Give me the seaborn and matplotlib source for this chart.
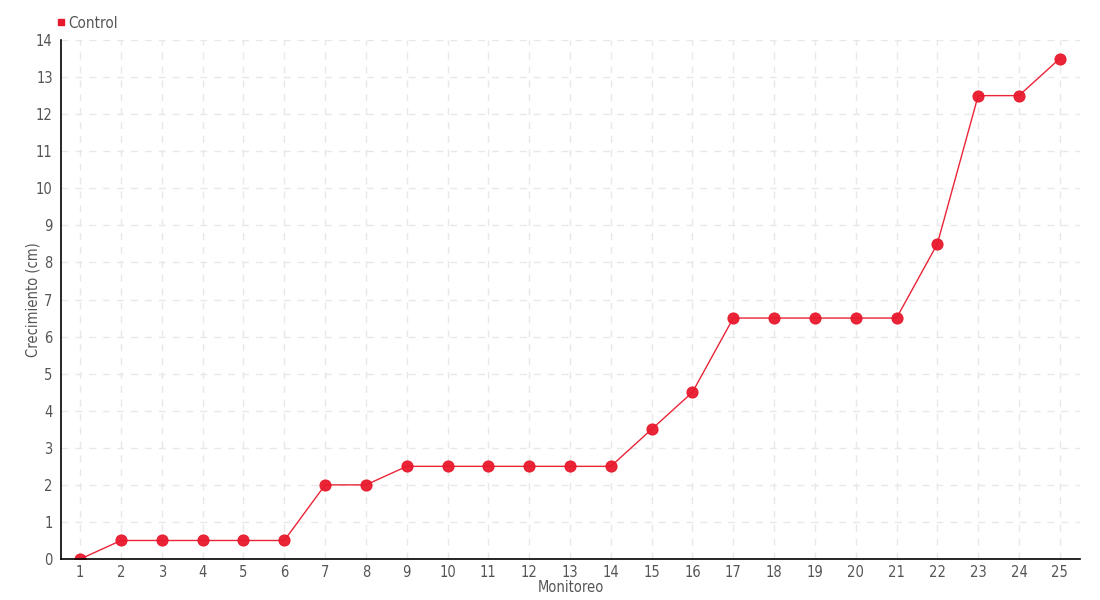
import seaborn as sns
import pandas as pd
import matplotlib.pyplot as plt
from matplotlib.lines import Line2D

monitoreo = list(range(1, 26))
control = [0, 0.5, 0.5, 0.5, 0.5, 0.5, 2, 2, 2.5, 2.5, 2.5, 2.5, 2.5, 2.5,
           3.5, 4.5, 6.5, 6.5, 6.5, 6.5, 6.5, 8.5, 12.5, 12.5, 13.5]

df = pd.DataFrame({'Monitoreo': monitoreo, 'Control': control})

sns.set_style("white")
plt.rcParams['font.family'] = ['DejaVu Sans']
plt.rcParams['font.stretch'] = 'condensed'
plt.rcParams['font.weight'] = 'light'

red = '#e8192c'
grey = '#555555'

fig = plt.figure(figsize=(11, 6), dpi=100)
ax = fig.add_axes([0.0555, 0.0683, 0.9265, 0.865])

sns.lineplot(data=df, x='Monitoreo', y='Control', ax=ax, color=red,
             linewidth=1, marker='o', markersize=8, markeredgecolor=red,
             markerfacecolor=red, alpha=0.95, legend=False)

ax.set_xlim(0.53, 25.5)
ax.set_ylim(0, 14)
ax.set_xticks(monitoreo)
ax.set_yticks(range(0, 15))
ax.grid(True, linestyle=(0, (5, 5)), color='#e8e8e8', linewidth=1)
ax.set_axisbelow(True)
for s in ['top', 'right']:
    ax.spines[s].set_visible(False)
for s in ['left', 'bottom']:
    ax.spines[s].set_color('black')
    ax.spines[s].set_linewidth(1.2)
ax.tick_params(axis='both', direction='out', length=4, width=1,
               color='black', labelcolor=grey, labelsize=10.5, pad=2)
ax.tick_params(axis='x', pad=0)
ax.set_xlabel('Monitoreo', color=grey, fontsize=10.5, labelpad=0)
ax.set_ylabel('Crecimiento (cm)', color=grey, fontsize=10.5, labelpad=-3)

handle = Line2D([], [], marker='s', color=red, linestyle='none', markersize=5)
fig.legend([handle], ['Control'], loc='upper left', bbox_to_anchor=(0.037, 0.997),
           frameon=False, handletextpad=0.1, fontsize=11, labelcolor=grey,
           handlelength=0.8)

fig.savefig('out.png', dpi=100)
